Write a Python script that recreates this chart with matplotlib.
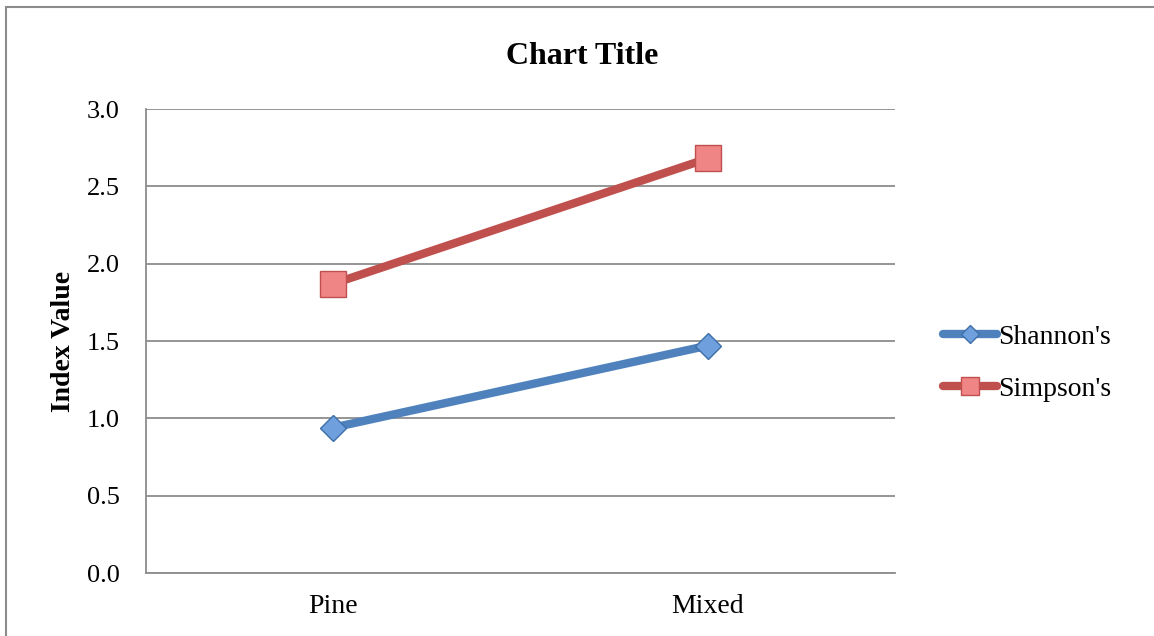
import matplotlib.pyplot as plt
from matplotlib.patches import Rectangle

# data
categories = ["Pine", "Mixed"]
shannon = [0.94, 1.47]
simpson = [1.87, 2.68]
y_ticks = [0.0, 0.5, 1.0, 1.5, 2.0, 2.5, 3.0]

plt.rcParams['font.family'] = ['Liberation Serif', 'DejaVu Serif']

fig = plt.figure(figsize=(11.54, 6.36), dpi=100)
ax = fig.add_axes([146/1154, 1-573/636, 749/1154, 464/636])

x = list(range(len(categories)))

# lines with markers, Excel 2007 colours
ax.plot(x, shannon, color='#4F81BD', linewidth=6, marker='D', markersize=13,
        markerfacecolor='#6FA0DD', markeredgecolor='#3F6FA8', markeredgewidth=1,
        solid_capstyle='round', label="Shannon's", zorder=3)
ax.plot(x, simpson, color='#C0504D', linewidth=6, marker='s', markersize=19,
        markerfacecolor='#F08585', markeredgecolor='#C0504D', markeredgewidth=1,
        solid_capstyle='round', label="Simpson's", zorder=3)

ax.set_xlim(-0.5, len(categories) - 0.5)
ax.set_ylim(0, 3.0)
ax.set_xticks(x)
ax.set_xticklabels(categories)
ax.set_yticks(y_ticks)
ax.set_yticklabels([f"{v:.1f}" for v in y_ticks])
ax.tick_params(axis='y', length=0, pad=19, labelsize=19)
ax.tick_params(axis='x', length=0, pad=15, labelsize=20)

# grey gridlines and axis lines
ax.grid(axis='y', color='#8C8C8C', linewidth=1.3)
ax.set_axisbelow(True)
for s in ['top', 'right']:
    ax.spines[s].set_visible(False)
ax.spines['left'].set_color('#8C8C8C')
ax.spines['bottom'].set_color('#8C8C8C')
ax.spines['left'].set_linewidth(1.3)
ax.spines['bottom'].set_linewidth(1.3)

# title and y label
fig.text(582/1154, 1-56/636, "Chart Title", ha='center', va='center',
         fontsize=23, fontweight='bold')
fig.text(63/1154, 1-341/636, "Index Value", ha='center', va='center',
         rotation=90, fontsize=20, fontweight='bold')

# legend on the right
fig.legend(loc='center left', bbox_to_anchor=(918/1154, 1-363/636),
           frameon=False, fontsize=20, handlelength=1.95, handletextpad=0.05,
           labelspacing=0.95, markerscale=0.7)

# chart area border
fig.patches.append(Rectangle((6/1154, -0.05), 1.1, 1-7/636+0.05,
                             transform=fig.transFigure, fill=False,
                             edgecolor='#8C8C8C', linewidth=1.5))

plt.savefig("out.png", dpi=100)
